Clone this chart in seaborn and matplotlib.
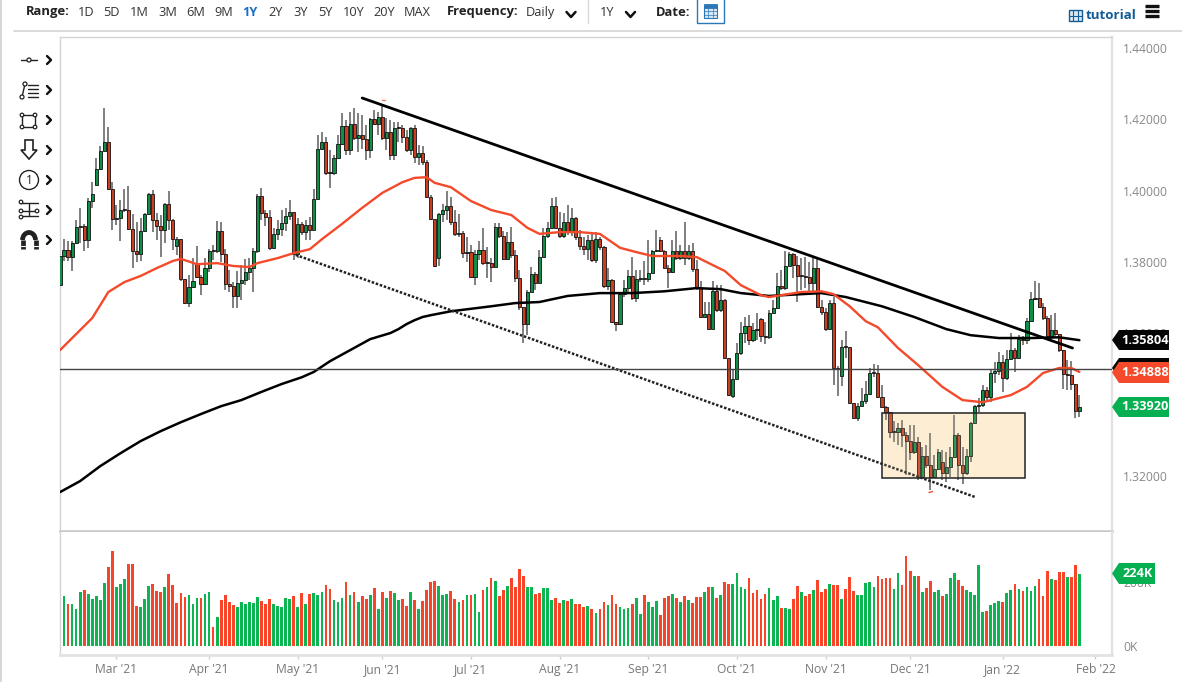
import matplotlib
matplotlib.use("Agg")
import matplotlib.pyplot as plt
import numpy as np
import pandas as pd
import seaborn as sns
from matplotlib.patches import Polygon, Rectangle, Circle, Arc

closes = [
1.3817,1.3834,1.3814,1.3854,1.3898,1.3901,1.3862,1.3971,1.3991,1.4061,
1.4111,1.4136,1.4005,1.3921,1.3924,1.3946,1.3946,1.3893,1.3831,1.3823,
1.3887,1.3935,1.3991,1.3918,1.3901,1.3890,1.3963,1.3918,1.3865,1.3865,
1.3752,1.3685,1.3730,1.3746,1.3758,1.3738,1.3783,1.3831,1.3831,1.3887,
1.3823,1.3738,1.3733,1.3704,1.3741,1.3749,1.3772,1.3783,1.3831,1.3985,
1.3938,1.3926,1.3840,1.3879,1.3893,1.3910,1.3929,1.3940,1.3823,1.3907,
1.3884,1.3904,1.3890,1.3977,1.4117,1.4136,1.4050,1.4050,1.4092,1.4131,
1.4181,1.4114,1.4187,1.4148,1.4156,1.4145,1.4114,1.4201,1.4187,1.4207,
1.4148,1.4164,1.4100,1.4176,1.4176,1.4150,1.4114,1.4176,1.4094,1.4106,
1.4081,1.3982,1.3921,1.3789,1.3935,1.3946,1.3957,1.3912,1.3879,1.3882,
1.3825,1.3828,1.3758,1.3823,1.3834,1.3797,1.3797,1.3786,1.3898,1.3873,
1.3809,1.3856,1.3820,1.3755,1.3674,1.3626,1.3716,1.3766,1.3741,1.3814,
1.3873,1.3896,1.3957,1.3896,1.3873,1.3912,1.3884,1.3924,1.3870,1.3845,
1.3837,1.3862,1.3806,1.3865,1.3842,1.3733,1.3749,1.3632,1.3626,1.3710,
1.3727,1.3761,1.3699,1.3752,1.3755,1.3752,1.3769,1.3831,1.3834,1.3831,
1.3783,1.3772,1.3831,1.3811,1.3831,1.3811,1.3831,1.3780,1.3727,1.3646,
1.3654,1.3612,1.3719,1.3665,1.3693,1.3531,1.3427,1.3472,1.3545,1.3601,
1.3620,1.3581,1.3609,1.3612,1.3592,1.3589,1.3657,1.3671,1.3733,1.3727,
1.3789,1.3823,1.3792,1.3761,1.3761,1.3758,1.3741,1.3783,1.3674,1.3660,
1.3612,1.3685,1.3503,1.3500,1.3561,1.3561,1.3405,1.3363,1.3396,1.3410,
1.3430,1.3489,1.3489,1.3422,1.3394,1.3379,1.3323,1.3323,1.3335,1.3315,
1.3298,1.3267,1.3295,1.3197,1.3256,1.3231,1.3197,1.3220,1.3267,1.3208,
1.3225,1.3253,1.3315,1.3231,1.3208,1.3256,1.3349,1.3396,1.3399,1.3441,
1.3422,1.3489,1.3494,1.3519,1.3475,1.3528,1.3553,1.3531,1.3584,1.3581,
1.3634,1.3696,1.3699,1.3674,1.3643,1.3592,1.3609,1.3598,1.3553,1.3486,
1.3483,1.3458,1.3382,1.3394]

highs = [
1.3820,1.3865,1.3859,1.3859,1.3918,1.3952,1.3907,1.3980,1.4024,1.4092,
1.4125,1.4232,1.4178,1.4024,1.3960,1.3974,1.4005,1.4013,1.3935,1.3912,
1.3924,1.3938,1.3994,1.4002,1.3938,1.3932,1.3966,1.3999,1.3921,1.3870,
1.3865,1.3752,1.3763,1.3811,1.3845,1.3763,1.3811,1.3837,1.3848,1.3915,
1.3912,1.3837,1.3778,1.3744,1.3775,1.3792,1.3809,1.3811,1.3840,1.3991,
1.4008,1.3946,1.3946,1.3896,1.3918,1.3946,1.3952,1.3974,1.3940,1.3924,
1.3912,1.3918,1.3926,1.4005,1.4156,1.4164,1.4150,1.4114,1.4100,1.4156,
1.4218,1.4198,1.4221,1.4232,1.4218,1.4212,1.4184,1.4204,1.4226,1.4221,
1.4243,1.4204,1.4198,1.4192,1.4192,1.4184,1.4170,1.4178,1.4184,1.4128,
1.4125,1.4086,1.3988,1.3918,1.3938,1.3963,1.3999,1.3982,1.3946,1.3935,
1.3887,1.3870,1.3848,1.3834,1.3859,1.3896,1.3842,1.3811,1.3910,1.3910,
1.3887,1.3884,1.3898,1.3834,1.3778,1.3674,1.3721,1.3786,1.3772,1.3834,
1.3896,1.3912,1.3980,1.3982,1.3940,1.3938,1.3960,1.3952,1.3926,1.3890,
1.3870,1.3876,1.3879,1.3884,1.3870,1.3845,1.3783,1.3752,1.3632,1.3716,
1.3749,1.3778,1.3814,1.3778,1.3778,1.3803,1.3862,1.3834,1.3890,1.3870,
1.3834,1.3792,1.3862,1.3887,1.3848,1.3912,1.3848,1.3854,1.3806,1.3746,
1.3688,1.3688,1.3746,1.3735,1.3735,1.3696,1.3531,1.3497,1.3573,1.3632,
1.3646,1.3651,1.3629,1.3657,1.3643,1.3632,1.3665,1.3693,1.3769,1.3778,
1.3831,1.3828,1.3825,1.3817,1.3811,1.3814,1.3800,1.3811,1.3811,1.3693,
1.3671,1.3693,1.3702,1.3508,1.3581,1.3606,1.3561,1.3405,1.3405,1.3447,
1.3466,1.3503,1.3514,1.3511,1.3455,1.3396,1.3379,1.3354,1.3349,1.3357,
1.3323,1.3343,1.3343,1.3309,1.3281,1.3287,1.3321,1.3259,1.3276,1.3273,
1.3267,1.3281,1.3371,1.3321,1.3281,1.3276,1.3351,1.3399,1.3419,1.3455,
1.3450,1.3497,1.3519,1.3548,1.3539,1.3553,1.3601,1.3559,1.3595,1.3592,
1.3643,1.3716,1.3746,1.3741,1.3685,1.3649,1.3651,1.3657,1.3598,1.3553,
1.3525,1.3522,1.3458,1.3427]

lows = [
1.3733,1.3803,1.3803,1.3775,1.3851,1.3854,1.3831,1.3840,1.3952,1.4016,
1.4058,1.4111,1.4002,1.3890,1.3904,1.3859,1.3940,1.3890,1.3783,1.3800,
1.3803,1.3884,1.3932,1.3884,1.3862,1.3814,1.3854,1.3890,1.3834,1.3820,
1.3746,1.3682,1.3674,1.3730,1.3755,1.3707,1.3735,1.3772,1.3806,1.3825,
1.3800,1.3721,1.3716,1.3671,1.3671,1.3693,1.3735,1.3749,1.3716,1.3825,
1.3918,1.3901,1.3834,1.3837,1.3862,1.3873,1.3887,1.3918,1.3806,1.3811,
1.3876,1.3862,1.3862,1.3890,1.3988,1.4114,1.4044,1.4008,1.4044,1.4092,
1.4128,1.4100,1.4100,1.4142,1.4109,1.4117,1.4086,1.4092,1.4184,1.4156,
1.4142,1.4114,1.4086,1.4086,1.4136,1.4134,1.4109,1.4100,1.4078,1.4072,
1.4072,1.3980,1.3918,1.3786,1.3789,1.3912,1.3918,1.3904,1.3873,1.3870,
1.3811,1.3800,1.3755,1.3735,1.3806,1.3792,1.3755,1.3744,1.3786,1.3867,
1.3806,1.3806,1.3811,1.3744,1.3665,1.3573,1.3595,1.3716,1.3721,1.3758,
1.3814,1.3867,1.3893,1.3893,1.3867,1.3867,1.3876,1.3873,1.3862,1.3834,
1.3820,1.3806,1.3800,1.3797,1.3834,1.3727,1.3721,1.3629,1.3606,1.3623,
1.3701,1.3716,1.3693,1.3688,1.3744,1.3735,1.3744,1.3769,1.3828,1.3828,
1.3783,1.3727,1.3769,1.3806,1.3806,1.3792,1.3806,1.3772,1.3721,1.3643,
1.3643,1.3609,1.3612,1.3660,1.3660,1.3528,1.3424,1.3419,1.3472,1.3539,
1.3573,1.3567,1.3575,1.3581,1.3575,1.3570,1.3584,1.3657,1.3668,1.3721,
1.3721,1.3789,1.3755,1.3688,1.3721,1.3727,1.3713,1.3716,1.3671,1.3651,
1.3606,1.3609,1.3455,1.3424,1.3452,1.3531,1.3402,1.3360,1.3354,1.3399,
1.3402,1.3427,1.3477,1.3419,1.3391,1.3357,1.3306,1.3295,1.3287,1.3281,
1.3203,1.3245,1.3262,1.3189,1.3236,1.3222,1.3161,1.3194,1.3217,1.3189,
1.3183,1.3197,1.3253,1.3189,1.3178,1.3203,1.3239,1.3349,1.3379,1.3394,
1.3413,1.3407,1.3461,1.3483,1.3436,1.3469,1.3525,1.3492,1.3531,1.3567,
1.3570,1.3634,1.3693,1.3671,1.3637,1.3589,1.3584,1.3589,1.3548,1.3444,
1.3441,1.3441,1.3363,1.3366]

# Sessions whose open differs from the previous close (gaps)
gap_opens = {0: 1.3735, 9: 1.4016, 29: 1.3845, 34: 1.3794, 94: 1.3811, 149: 1.3862,
             167: 1.3424, 174: 1.3640, 194: 1.3480, 219: 1.3239}

volumes = [
150,156,131,131,114,168,174,161,146,156,143,195,245,296,184,192,208,256,256,124,
121,147,186,193,171,169,183,224,190,135,164,152,159,131,148,149,162,167,58,89,
143,159,136,127,121,137,132,137,135,152,141,132,145,131,124,120,149,147,157,120,
164,131,162,165,160,169,190,177,143,137,150,198,159,167,137,157,146,159,181,114,
168,149,171,164,142,145,124,169,142,115,139,173,198,202,187,160,162,170,146,138,
143,159,160,162,106,173,184,213,202,157,173,186,212,185,239,218,184,184,163,164,
179,179,142,150,135,143,139,145,130,131,122,125,115,104,115,137,128,158,131,122,
116,119,131,149,100,158,136,121,140,97,148,156,162,150,138,155,143,134,151,151,
168,185,185,149,159,199,193,193,227,184,177,211,166,174,147,162,180,142,155,118,
118,115,147,188,167,156,161,173,205,169,177,192,190,189,147,177,215,171,159,159,
195,198,184,218,208,211,212,178,227,191,280,233,217,219,167,180,203,169,175,156,
163,213,227,205,188,173,168,159,251,106,109,129,135,140,137,164,174,194,176,171,
183,172,186,208,156,232,209,206,229,229,214,214,251,224]

volume_sides = (
"GGRGGGRGGG" "GGRRGGGRRR" "GGGRRRGRRR" "RRGGGRGGRG" "RRRRGGGGGG"
"RRRGGGGGRG" "RGRGGGRRGG" "GRGRGRRGRG" "RGRGGRRGRG" "RRRRGGGRRG"
"RGRGGRGRGR" "RGRRRRGGRR" "GGGRRGRGRR" "RGRGRRGRRG" "GGRGGRGGGR"
"RRGRGRGRRR" "GRGRGRRGGG" "GRRRRRGGGR" "GGRRGRRGRR" "RGRRGRRRGG"
"GGGRRRRGGR" "RRGRGRRGGR" "GGGRRGGGGG" "RGGGRGGRGR" "GGGRRRGRRR" "GRRG")

ma50_bars = [0,4,8,12,16,20,24,28,30,34,39,43,47,49,54,58,62,65,70,75,80,85,88,91,93,97,102,107,
             112,116,119,124,129,134,139,143,147,154,158,163,165,169,174,176,179,184,189,192,196,
             200,203,208,213,219,224,229,236,240,244,248,251,253]
ma50_vals = [1.3553,1.3598,1.3643,1.3716,1.3744,1.3761,1.3783,1.3803,1.3809,1.3794,1.3797,1.3789,
             1.3786,1.3797,1.3811,1.3825,1.3836,1.3864,1.3907,1.3952,1.3994,1.4024,1.4036,1.4038,
             1.4022,1.4010,1.3971,1.3946,1.3932,1.3896,1.3879,1.3884,1.3884,1.3879,1.3840,1.3828,
             1.3817,1.3817,1.3814,1.3786,1.3775,1.3735,1.3707,1.3702,1.3707,1.3716,1.3718,1.3710,
             1.3676,1.3634,1.3617,1.3559,1.3511,1.3450,1.3413,1.3407,1.3427,1.3450,1.3489,1.3503,
             1.3503,1.3492]

ma200_bars = [0,5,10,15,20,25,30,35,40,45,50,55,60,63,67,72,77,82,84,86,88,90,92,97,107,113,119,126,134,
              142,150,158,164,169,176,184,189,195,204,212,220,226,233,241,248,253]
ma200_vals = [1.3155,1.3186,1.3228,1.3264,1.3298,1.3326,1.3351,1.3374,1.3396,1.3413,1.3436,1.3458,
              1.3477,1.3492,1.3522,1.3553,1.3584,1.3601,1.3612,1.3626,1.3637,1.3646,1.3651,1.3662,
              1.3676,1.3685,1.3688,1.3705,1.3713,1.3713,1.3718,1.3727,1.3724,1.3713,1.3705,1.3710,
              1.3713,1.3702,1.3676,1.3646,1.3612,1.3595,1.3587,1.3587,1.3589,1.3581]

trend_bars = [75, 251.3]
trend_vals = [1.4260, 1.3559]
channel_bars = [58.5, 227.2]
channel_vals = [1.3820, 1.3141]
support_level = 1.3501
box_bars = [204.1, 239.4]
box_vals = [1.3194, 1.3377]

price_ticks = [1.44, 1.42, 1.40, 1.38, 1.36, 1.34, 1.32]
month_bars = [14, 37, 59, 80, 102, 124, 146, 168, 190, 211, 234, 257]
month_labels = ["Mar '21", "Apr '21", "May '21", "Jun '21", "Jul '21", "Aug '21", "Sep '21",
                "Oct '21", "Nov '21", "Dec '21", "Jan '22", "Feb '22"]
range_labels = ["1D", "5D", "1M", "3M", "6M", "9M", "1Y", "2Y", "3Y", "5Y", "10Y", "20Y", "MAX"]
range_left = [77.5, 103, 130, 158, 186, 214, 242, 268, 293, 318, 343, 373, 404]

sns.set_theme(style="white")
plt.rcParams['font.family'] = ['Open Sans', 'DejaVu Sans']

W, H = 1182, 682
fig = plt.figure(figsize=(W / 100, H / 100), dpi=100, facecolor="white")


def px_axes(l, t, r, b):
    return fig.add_axes([l / W, 1 - b / H, (r - l) / W, (b - t) / H])


ax = px_axes(60, 37, 1112, 531)
axv = px_axes(60, 532, 1112, 655)

UP, DOWN = "#0e8f47", "#c93f20"
bars = np.arange(len(closes))
c = np.array(closes)
o = np.r_[c[0], c[:-1]]
for k, v in gap_opens.items():
    o[k] = v
h = np.array(highs)
l = np.array(lows)

# Rectangle fill lies under the candles, a faint tint over them
ax.add_patch(Rectangle((box_bars[0], box_vals[0]), box_bars[1] - box_bars[0], box_vals[1] - box_vals[0],
                       facecolor="#fdf0d8", edgecolor="none", zorder=1))
ax.vlines(bars, l, h, color="#5c5c5c", lw=1.1, zorder=2)
is_up = c > o
ax.bar(bars, np.maximum(np.abs(c - o), 0.00035), bottom=np.minimum(o, c), width=0.78,
       color=np.where(is_up, UP, DOWN), edgecolor="#111111", linewidth=0.6, zorder=3)

sns.lineplot(x=ma200_bars, y=ma200_vals, color="black", lw=1.8, estimator=None, ax=ax, zorder=4)
sns.lineplot(x=ma50_bars, y=ma50_vals, color="#f4492a", lw=1.7, estimator=None, ax=ax, zorder=5)
sns.lineplot(x=trend_bars, y=trend_vals, color="black", lw=2, estimator=None, ax=ax, zorder=6)
ax.plot(channel_bars, channel_vals, color="#222222", lw=1.8, ls=(0, (1, 0.7)), zorder=6)
ax.axhline(support_level, color="#444444", lw=1, zorder=6)
ax.add_patch(Rectangle((box_bars[0], box_vals[0]), box_bars[1] - box_bars[0], box_vals[1] - box_vals[0],
                       facecolor="#fde3b8", alpha=0.14, edgecolor="none", zorder=7))
ax.add_patch(Rectangle((box_bars[0], box_vals[0]), box_bars[1] - box_bars[0], box_vals[1] - box_vals[0],
                       facecolor="none", edgecolor="#222222", lw=1.1, zorder=7))

ax.set_xlim(0, 261.1)
ax.set_ylim(1.3046, 1.4431)
ax.set_xticks([])
ax.yaxis.tick_right()
ax.set_yticks(price_ticks)
ax.set_yticklabels([f"{p:.5f}" for p in price_ticks], color="#888888", fontsize=8.7)
ax.tick_params(axis="y", length=0, pad=8)
ax.set_xlabel("")
ax.set_ylabel("")

vol_df = pd.DataFrame({"bar": bars, "volume": volumes, "side": list(volume_sides)})
sns.barplot(data=vol_df, x="bar", y="volume", hue="side", palette={"G": "#0bb552", "R": "#f8452a"},
            native_scale=True, dodge=False, width=0.68, saturation=1, legend=False, linewidth=0, ax=axv)
axv.set_xlim(0, 261.1)
axv.set_ylim(-28, 354.5)
axv.set_xticks(month_bars)
axv.set_xticklabels(month_labels, color="#777777", fontsize=8.7)
axv.tick_params(axis="x", length=3, color="#cccccc", width=1, pad=3, bottom=True)
axv.yaxis.tick_right()
axv.set_yticks([0, 200])
axv.set_yticklabels(["0K", "200K"], color="#888888", fontsize=8.7)
axv.tick_params(axis="y", length=0, pad=8)
axv.set_xlabel("")
axv.set_ylabel("")

for a in (ax, axv):
    for side, sp in a.spines.items():
        sp.set_color("#d4d4d4")
        sp.set_linewidth(1)
    a.spines["right"].set_color("#e2e2e2")
    a.spines["right"].set_linewidth(1.6)
ax.spines["bottom"].set_color("#c8c8c8")
ax.spines["bottom"].set_linewidth(1.8)
axv.spines["top"].set_visible(False)
axv.spines["bottom"].set_color("#e2e2e2")
axv.spines["bottom"].set_linewidth(2)

# Overlay in image pixels for the surrounding interface
ui = fig.add_axes([0, 0, 1, 1], zorder=10)
ui.set_xlim(0, W)
ui.set_ylim(H, 0)
ui.axis("off")
ui.patch.set_alpha(0)

ui.plot([1, 1], [0, H], color="#d0d0d0", lw=1.2)
ui.plot([14, W], [30.5, 30.5], color="#d4d4d4", lw=1.2)

ink = "#222222"
ui.text(25.5, 12, "Range:", fontsize=9.4, fontweight="bold", color=ink, va="center")
for lab, lft in zip(range_labels, range_left):
    sel = lab == "1Y"
    ui.text(lft, 12.5, lab, fontsize=9.2, color="#1c6fc0" if sel else "#333333",
            fontweight="bold" if sel else "normal", va="center")
ui.text(447, 12, "Frequency:", fontsize=9.4, fontweight="bold", color=ink, va="center")
ui.text(526, 12.5, "Daily", fontsize=9.2, color="#333333", va="center")
ui.text(599.5, 12.5, "1Y", fontsize=9.2, color="#333333", va="center")
ui.text(656, 12, "Date:", fontsize=9.4, fontweight="bold", color=ink, va="center")
ui.plot([588, 588], [0, 23], color="#d8d8d8", lw=1)
for cx in (571, 630.5):
    ui.plot([cx - 4.5, cx, cx + 4.5], [12, 17, 12], color="#111111", lw=1.8)

ui.add_patch(Rectangle((697, -2), 27, 25, facecolor="white", edgecolor="#2a78b8", lw=1, joinstyle="round"))
ui.add_patch(Rectangle((704, 6), 13, 12, facecolor="#dbe8f4", edgecolor="#2a78b8", lw=0.8))
ui.add_patch(Rectangle((704, 4), 13, 4, facecolor="#2a78b8", edgecolor="#2a78b8", lw=0.6))
for gx in (708, 713):
    ui.plot([gx, gx], [6, 18], color="#2a78b8", lw=0.5)
for gy in (11, 14.5):
    ui.plot([704, 717], [gy, gy], color="#2a78b8", lw=0.5)

blue = "#135c96"
ui.add_patch(Rectangle((1069, 10), 13, 11, facecolor="#dbe8f4", edgecolor=blue, lw=1))
for gx in (1073, 1078):
    ui.plot([gx, gx], [10, 21], color=blue, lw=0.8)
ui.plot([1069, 1082], [15.5, 15.5], color=blue, lw=0.8)
ui.text(1086, 15.5, "tutorial", fontsize=9.6, fontweight="bold", color=blue, va="center")
for my in (6, 11, 16):
    ui.plot([1145, 1159], [my, my], color="#111111", lw=2.4, solid_capstyle="butt")

# Drawing tools
tc = "#222222"
for ty in (60, 90, 120, 150, 180, 210, 240):
    ui.plot([47, 51, 47], [ty - 4, ty, ty + 4], color="#111111", lw=1.7)
ui.plot([21, 37], [60, 60], color=tc, lw=1)
ui.add_patch(Circle((29, 60), 2, facecolor="white", edgecolor=tc, lw=0.9, zorder=3))
ui.plot([22, 25], [97, 84], color=tc, lw=1)
for px, py in ((22, 97), (25, 84)):
    ui.add_patch(Circle((px, py), 2, facecolor="white", edgecolor=tc, lw=0.9, zorder=3))
for ly in (85, 89, 93, 97):
    ui.plot([28, 38], [ly, ly], color=tc, lw=1)
ui.add_patch(Rectangle((22, 115), 13, 12, facecolor="none", edgecolor=tc, lw=1))
for px, py in ((22, 115), (35, 115), (22, 127), (35, 127)):
    ui.add_patch(Circle((px, py), 1.8, facecolor="white", edgecolor=tc, lw=0.9, zorder=3))
ui.add_patch(Polygon([(25, 140), (33, 140), (33, 150), (37, 150), (29, 159), (21, 150), (25, 150)],
                     closed=True, facecolor="white", edgecolor=tc, lw=1.2))
ui.add_patch(Circle((29, 180), 9.5, facecolor="white", edgecolor=tc, lw=1))
ui.text(29, 180, "1", fontsize=8.5, color=tc, ha="center", va="center")
ui.plot([20, 38], [203, 203], color=tc, lw=1)
ui.plot([20, 38], [211, 211], color=tc, lw=1)
ui.plot([20, 38], [216, 216], color=tc, lw=1)
ui.plot([29, 29], [204, 215], color=tc, lw=1)
for px, py in ((21, 202), (21, 211), (21, 217), (37, 211)):
    ui.add_patch(Circle((px, py), 1.8, facecolor="white", edgecolor=tc, lw=0.9, zorder=3))
ui.add_patch(Arc((29, 240), 13, 15, theta1=180, theta2=360, edgecolor=tc, lw=3.4))
ui.plot([22.5, 22.5], [240, 249], color=tc, lw=3.4, solid_capstyle="butt")
ui.plot([35.5, 35.5], [240, 249], color=tc, lw=3.4, solid_capstyle="butt")
ui.plot([20.5, 25], [246, 246], color="white", lw=0.8)
ui.plot([33, 37.5], [246, 246], color="white", lw=0.8)

# Tiny red extreme markers
ui.plot([381.5, 384.5], [99.5, 99.5], color="#f4786a", lw=1)
ui.plot([929, 932.5], [492.5, 491.5], color="#f4492a", lw=1)


def tag(top, bottom, label, colour, left=1112, right=1169):
    mid = (top + bottom) / 2
    ui.add_patch(Polygon([(left, mid), (left + 7, top), (right, top), (right, bottom), (left + 7, bottom)],
                         closed=True, facecolor=colour, edgecolor="none"))
    if label:
        ui.text((left + 7 + right) / 2 + 1, mid, label, color="white", fontsize=9.2, fontweight="bold",
                ha="center", va="center")


tag(330, 350, "1.35804", "#050505")
tag(358, 378, "", "#050505")
tag(362, 383, "1.34888", "#f4492a")
tag(397, 417, "1.33920", "#06b050")
tag(563, 584, "224K", "#06b050", right=1155)

fig.savefig("out.png", dpi=100)
